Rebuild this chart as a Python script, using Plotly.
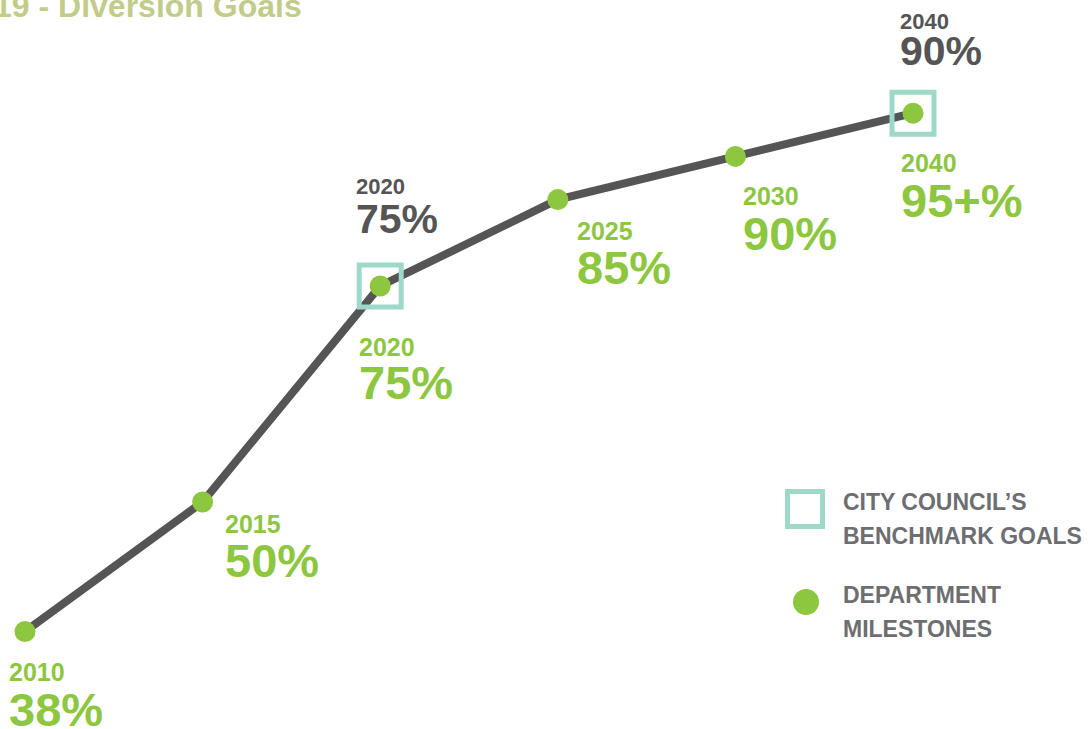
import plotly.graph_objects as go

# ---- data ----
years = ["2010", "2015", "2020", "2025", "2030", "2040"]
milestone_pct = [35, 50, 75, 85, 90, 95]          # plotted position
milestone_labels = ["38%", "50%", "75%", "85%", "90%", "95+%"]
benchmark_years = ["2020", "2040"]
benchmark_labels = ["75%", "90%"]
title_text = "19 - Diversion Goals"
legend_labels = [["CITY COUNCIL\u2019S", "BENCHMARK GOALS"], ["DEPARTMENT", "MILESTONES"]]

# ---- styles ----
W, H = 1092, 729
GREEN = "#8DC63F"
GREY = "#555555"
TEAL = "#9ED8C9"
LEGEND_GREY = "#6D6E71"
TITLE_COL = "#C2CC8A"
FONT = "Liberation Sans"
ASC = 0.905   # ascent (em)
CAP = 0.716   # cap height (em)

# label offsets (px, relative to point): dx, dy to year cap top, gap year cap top -> pct cap top
green_off = [(-15, 30, 29), (23, 12, 28), (-20, 51, 27), (20, 21, 28), (9, 29, 29), (-11, 40, 29)]
grey_off = [(-23, -109, 25), (-12, -101, 22)]

xpos = list(range(len(years)))  # evenly spaced positions (years shown as labels)
bench_x = [years.index(y) for y in benchmark_years]
bench_y = [milestone_pct[i] for i in bench_x]

fig = go.Figure()
fig.add_trace(go.Scatter(x=xpos, y=milestone_pct, mode="lines", text=years,
                         line=dict(color=GREY, width=8), hoverinfo="skip", showlegend=False))
fig.add_trace(go.Scatter(x=bench_x, y=bench_y, mode="markers", text=benchmark_years,
                         marker=dict(symbol="square-open", size=42, color=TEAL,
                                     line=dict(color=TEAL, width=5)),
                         showlegend=False))
fig.add_trace(go.Scatter(x=xpos, y=milestone_pct, mode="markers", text=years,
                         marker=dict(color=GREEN, size=21, line=dict(width=0)),
                         showlegend=False))

YF, PF = 25, 47
GYF, GPF = 22, 41

def add_label(x, y, dx, dy, gap, year, pct, color, yf, pf):
    # baseline distance between the two lines -> base font size (line spacing 1.3em)
    base_dist = gap + CAP * (pf - yf)
    base = base_dist / 1.3
    txt = (f"<span style='font-size:{yf}px'><b>{year}</b></span><br>"
           f"<span style='font-size:{pf}px'><b>{pct}</b></span>")
    fig.add_annotation(x=x, y=y, xref="x", yref="y", text=txt,
                       showarrow=False, xanchor="left", yanchor="top", align="left",
                       borderpad=0,
                       xshift=dx - 2, yshift=-(dy - (ASC - CAP) * yf),
                       font=dict(family=FONT, size=base, color=color))

for i, yr in enumerate(years):
    dx, dy, gap = green_off[i]
    add_label(xpos[i], milestone_pct[i], dx, dy, gap, yr, milestone_labels[i], GREEN, YF, PF)
for i, yr in enumerate(benchmark_years):
    dx, dy, gap = grey_off[i]
    add_label(bench_x[i], bench_y[i], dx, dy, gap, yr, benchmark_labels[i], GREY, GYF, GPF)

# title (cut off at top-left, as in the reference)
fig.add_annotation(x=303 / W, y=1 - 25 / H, xref="paper", yref="paper", text=f"<b>{title_text}</b>",
                   showarrow=False, xanchor="right", yanchor="bottom", borderpad=0,
                   font=dict(family=FONT, size=32, color=TITLE_COL))

# legend
def px(x):
    return x / W

def py(y):
    return 1 - y / H

fig.add_shape(type="rect", xref="paper", yref="paper",
              x0=px(787.5), x1=px(822.5), y0=py(526.5), y1=py(491.5),
              line=dict(color=TEAL, width=5), fillcolor="rgba(0,0,0,0)")
fig.add_shape(type="circle", xref="paper", yref="paper",
              x0=px(793), x1=px(819), y0=py(615), y1=py(589),
              line=dict(color=GREEN, width=0), fillcolor=GREEN)
LF = 23
LINE_GAP = 34
for lines, top in zip(legend_labels, [492, 585]):
    fig.add_annotation(x=px(842), y=py(top - (ASC - CAP) * LF), xref="paper", yref="paper",
                       text="<br>".join(f"<span style='font-size:{LF}px'><b>{t}</b></span>" for t in lines),
                       showarrow=False, xanchor="left", yanchor="top", align="left", borderpad=0,
                       font=dict(family=FONT, size=LINE_GAP / 1.3, color=LEGEND_GREY))

pxu = 177.6
ppu = 8.64
fig.update_layout(
    width=W, height=H, margin=dict(l=0, r=0, t=0, b=0),
    paper_bgcolor="white", plot_bgcolor="white",
    xaxis=dict(range=[-25 / pxu, (W - 25) / pxu], visible=False, fixedrange=True),
    yaxis=dict(range=[(934 - H) / ppu, 934 / ppu], visible=False, fixedrange=True),
    showlegend=False,
)
fig.write_html("out.html", config={"displayModeBar": False},
               post_script="document.body.style.margin='0';")
